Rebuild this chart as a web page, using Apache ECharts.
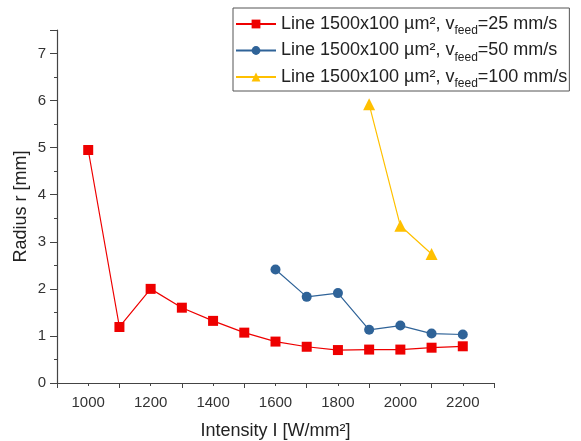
<!DOCTYPE html>
<html>
<head>
<meta charset="utf-8">
<script src="https://cdn.jsdelivr.net/npm/echarts@6/dist/echarts.min.js"></script>
<style>
  html, body { margin: 0; padding: 0; background: #fff; }
  #chart { width: 581px; height: 441px; }
</style>
</head>
<body>
<div id="chart"></div>
<script>
var intensity = [1000, 1100, 1200, 1300, 1400, 1500, 1600, 1700, 1800, 1900, 2000, 2100, 2200];
var radius25 = [4.95, 1.19, 2.0, 1.6, 1.32, 1.07, 0.88, 0.77, 0.70, 0.71, 0.71, 0.75, 0.78];
var intensity50 = [1600, 1700, 1800, 1900, 2000, 2100, 2200];
var radius50 = [2.41, 1.83, 1.91, 1.13, 1.22, 1.05, 1.03];
var intensity100 = [1900, 2000, 2100];
var radius100 = [5.92, 3.34, 2.74];
var seriesNames = ['v25', 'v50', 'v100'];
var feedLabels = { v25: '25', v50: '50', v100: '100' };

var font = 'Liberation Sans, Arial, sans-serif';
var chart = echarts.init(document.getElementById('chart'));

function pairs(xs, ys) {
    return xs.map(function (x, i) { return [x, ys[i]]; });
}

var axisLine = { lineStyle: { color: '#444', width: 1.2 } };

option = {
    animation: false,
    grid: { left: 57, right: 87, top: 30, bottom: 58, outerBoundsMode: 'none' },
    legend: {
        orient: 'vertical',
        left: 233,
        top: 8,
        padding: [7, 2, 1, 2],
        itemGap: 4.5,
        itemWidth: 40,
        itemHeight: 11,
        borderColor: '#555',
        borderWidth: 1,
        borderRadius: 0,
        data: seriesNames,
        formatter: function (name) {
            return '{n|Line 1500x100 µm², v}{s|feed}{n|=' + feedLabels[name] + ' mm/s}';
        },
        textStyle: {
            fontFamily: font,
            fontSize: 18,
            color: '#222',
            rich: {
                n: { fontFamily: font, fontSize: 18, color: '#222', lineHeight: 20 },
                s: { fontFamily: font, fontSize: 12, color: '#222', lineHeight: 26, verticalAlign: 'bottom' }
            }
        }
    },
    xAxis: [{
        type: 'value',
        min: 900,
        max: 2300,
        interval: 100,
        position: 'bottom',
        name: 'Intensity I [W/mm²]',
        nameLocation: 'middle',
        nameGap: 39,
        nameTextStyle: { fontFamily: font, fontSize: 18, color: '#222' },
        axisLine: Object.assign({ onZero: false }, axisLine),
        axisTick: { show: true, length: 3, lineStyle: { color: '#444' } },
        axisLabel: {
            fontFamily: font, fontSize: 15, color: '#333', margin: 12,
            showMinLabel: false, showMaxLabel: false,
            formatter: function (v) { return (v % 200 === 0) ? String(v) : ''; }
        },
        splitLine: { show: false }
    }, {
        type: 'value',
        min: 900,
        max: 2300,
        interval: 200,
        position: 'bottom',
        axisLine: { show: false, onZero: false },
        axisTick: { show: true, length: 5, lineStyle: { color: '#444' } },
        axisLabel: { show: false },
        splitLine: { show: false }
    }],
    yAxis: [{
        type: 'value',
        min: 0,
        max: 7.5,
        interval: 0.5,
        position: 'left',
        name: 'Radius r [mm]',
        nameLocation: 'middle',
        nameGap: 27,
        nameMoveOverlap: false,
        nameTextStyle: { fontFamily: font, fontSize: 18, color: '#222' },
        axisLine: Object.assign({ show: true, onZero: false }, axisLine),
        axisTick: { show: true, length: 3, lineStyle: { color: '#444' } },
        axisLabel: {
            fontFamily: font, fontSize: 15, color: '#333', margin: 11,
            formatter: function (v) { return (v % 1 === 0) ? String(v) : ''; }
        },
        splitLine: { show: false }
    }, {
        type: 'value',
        min: 0,
        max: 7.5,
        interval: 1,
        position: 'left',
        axisLine: { show: false, onZero: false },
        axisTick: { show: true, length: 7, lineStyle: { color: '#444' } },
        axisLabel: { show: false },
        splitLine: { show: false }
    }],
    series: [{
        name: 'v25',
        type: 'line',
        data: pairs(intensity, radius25),
        symbol: 'rect',
        symbolSize: 10,
        itemStyle: { color: '#ee0000' },
        lineStyle: { color: '#ee0000', width: 1.2 }
    }, {
        name: 'v50',
        type: 'line',
        data: pairs(intensity50, radius50),
        symbol: 'circle',
        symbolSize: 10,
        itemStyle: { color: '#2f6398' },
        lineStyle: { color: '#2f6398', width: 1.2 }
    }, {
        name: 'v100',
        type: 'line',
        data: pairs(intensity100, radius100),
        symbol: 'triangle',
        symbolSize: 12,
        itemStyle: { color: '#ffc000' },
        lineStyle: { color: '#ffc000', width: 1.2 }
    }]
};

chart.setOption(option);
</script>
</body>
</html>
